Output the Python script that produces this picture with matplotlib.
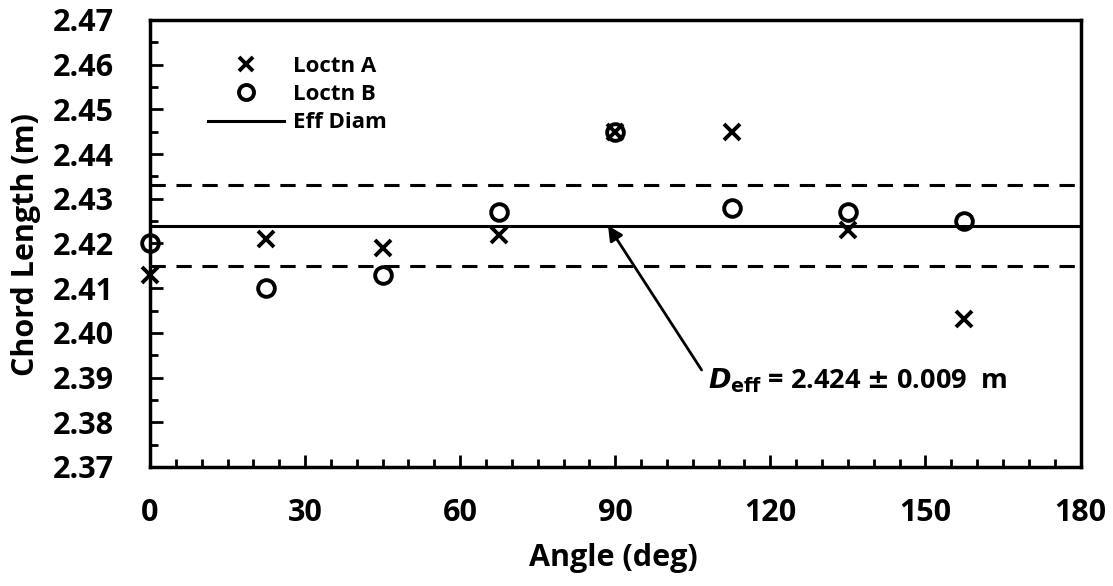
import numpy as np
import matplotlib.pyplot as plt
from matplotlib.ticker import MultipleLocator

plt.rcParams['font.family'] = ['Open Sans', 'DejaVu Sans']
plt.rcParams['font.weight'] = 'bold'

angle = [0, 22.5, 45, 67.5, 90, 112.5, 135, 157.5]
loctn_a = [2.413, 2.421, 2.419, 2.422, 2.445, 2.445, 2.423, 2.403]
loctn_b = [2.420, 2.410, 2.413, 2.427, 2.445, 2.428, 2.427, 2.425]
d_eff = 2.424
d_unc = 0.009

fig = plt.figure(figsize=(11.13, 5.86), dpi=100)
ax = fig.add_axes([0.1348, 0.2031, 0.836, 0.7628])

ax.plot(angle, loctn_a, 'x', color='black', ms=11, mew=2.8, label='Loctn A', clip_on=False, zorder=3)
ax.plot(angle, loctn_b, 'o', mfc='none', mec='black', ms=12, mew=2.8, label='Loctn B', clip_on=False, zorder=3)
ax.axhline(d_eff, color='black', lw=2.2, label='Eff Diam')
ax.axhline(d_eff + d_unc, color='black', lw=2.2, ls=(0, (5, 3.5)))
ax.axhline(d_eff - d_unc, color='black', lw=2.2, ls=(0, (5, 3.5)))

ax.annotate('', xy=(88.6, d_eff), xytext=(106.7, 2.3917),
            arrowprops=dict(arrowstyle='-|>', color='black', lw=2, mutation_scale=22,
                            shrinkA=0, shrinkB=0))
ax.text(108.0, 2.3892, r'$\boldsymbol{D}_{\mathbf{eff}}$ = 2.424 $\pm$ 0.009  m',
        fontsize=19.5, fontweight='bold', va='center', ha='left')

ax.set_xlim(0, 180)
ax.set_ylim(2.37, 2.47)
ax.xaxis.set_major_locator(MultipleLocator(30))
ax.xaxis.set_minor_locator(MultipleLocator(5))
ax.yaxis.set_major_locator(MultipleLocator(0.01))
ax.yaxis.set_minor_locator(MultipleLocator(0.005))
ax.yaxis.set_major_formatter(plt.FormatStrFormatter('%.2f'))
ax.tick_params(which='major', direction='in', length=9, width=2, labelsize=22)
ax.tick_params(which='minor', direction='in', length=6, width=2)
ax.tick_params(axis='x', which='major', pad=22)
ax.tick_params(axis='y', which='major', pad=26)
for lab in ax.get_xticklabels() + ax.get_yticklabels():
    lab.set_fontweight('bold')
for s in ax.spines.values():
    s.set_linewidth(2.5)

fig.text(613 / 1113, 1 - 543 / 586, 'Angle (deg)', fontsize=22, fontweight='bold',
         ha='center', va='top')
fig.text(26 / 1113, 1 - 244 / 586, 'Chord Length (m)', fontsize=22, fontweight='bold',
         ha='center', va='center', rotation=90)

leg = ax.legend(loc='upper left', bbox_to_anchor=(0.041, 0.965), frameon=False,
                fontsize=16, handlelength=3.4, labelspacing=0.33, handletextpad=0.4,
                markerscale=0.9)
for t in leg.get_texts():
    t.set_fontweight('bold')

fig.savefig('out.png', dpi=100)
